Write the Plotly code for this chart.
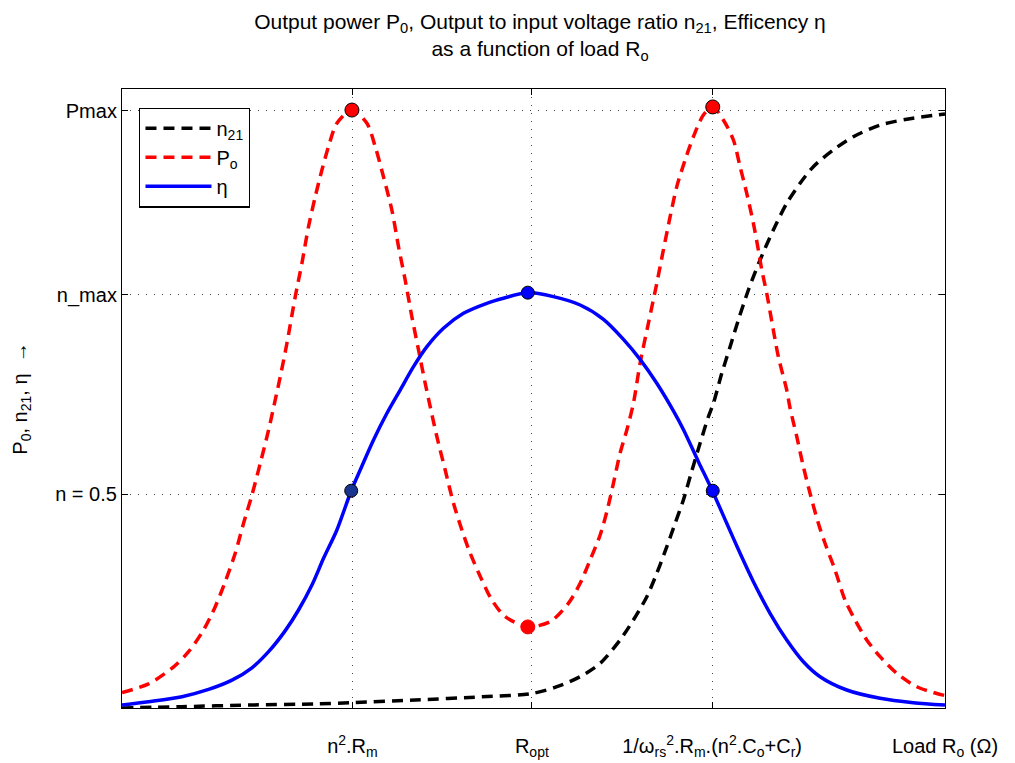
import plotly.graph_objects as go

# ---- data (x: load axis 0..100, y: 0..100) ----
po_x = [0.0, 3.23, 6.24, 8.09, 9.91, 11.33, 12.54, 13.76, 14.77, 15.79, 16.80, 17.81, 18.62,
        19.23, 20.04, 21.05, 21.86, 22.66, 23.48, 24.29, 25.09, 26.11, 27.94, 29.76, 30.77,
        31.77, 32.79, 33.60, 34.41, 35.22, 36.03, 36.84, 37.45, 38.26, 39.27, 40.28, 41.30,
        42.31, 43.73, 44.94, 46.56, 49.31, 52.02, 54.24, 55.67, 56.88, 58.10, 58.91, 59.71,
        60.52, 61.34, 62.14, 62.95, 63.96, 64.98, 65.78, 66.60, 67.41, 68.42, 69.43, 70.64,
        71.78, 73.07, 74.29, 75.10, 75.91, 76.72, 77.32, 77.74, 78.34, 79.14, 79.75, 80.77,
        81.17, 81.99, 82.79, 83.60, 84.61, 85.42, 86.64, 87.85, 89.07, 90.49, 92.11, 94.13,
        96.56, 100.0]
po_y = [2.5, 3.9, 6.6, 9.09, 12.6, 16.37, 20.4, 25.0, 29.84, 34.41, 39.53, 44.91, 49.76,
        53.52, 58.92, 66.45, 71.84, 77.75, 82.6, 86.91, 90.68, 94.46, 96.61, 94.46, 90.68,
        85.83, 80.45, 74.52, 69.14, 63.21, 57.84, 52.46, 48.68, 43.83, 38.45, 33.07, 28.76,
        24.99, 20.68, 17.45, 14.75, 13.13, 13.94, 16.91, 20.15, 23.91, 27.95, 31.71, 36.30,
        41.15, 44.91, 49.22, 55.69, 62.15, 68.61, 73.99, 79.37, 84.22, 88.53, 92.29, 95.80,
        97.14, 94.99, 91.76, 87.45, 83.15, 78.30, 73.99, 70.76, 66.99, 61.07, 56.75, 51.37,
        48.47, 43.83, 38.98, 34.69, 29.84, 26.61, 22.29, 17.45, 14.22, 10.99, 8.29, 5.61,
        3.44, 2.0]

eta_x = [0.0, 3.23, 7.29, 10.52, 13.36, 15.79, 17.81, 19.84, 21.45, 23.08, 24.49, 26.11,
         27.85, 28.94, 30.56, 32.19, 33.80, 35.42, 37.05, 39.06, 41.49, 44.33, 46.35, 49.31,
         52.42, 55.67, 58.50, 60.93, 62.95, 64.98, 67.00, 68.21, 70.04, 71.78, 73.48, 75.10,
         76.72, 78.74, 80.77, 82.79, 84.82, 88.06, 92.11, 96.15, 100.0]
eta_y = [0.48, 1.02, 1.83, 3.0, 4.5, 6.5, 9.1, 12.5, 15.83, 19.87, 24.18, 28.76,
         35.10, 38.45, 43.30, 47.61, 51.37, 55.14, 58.37, 61.34, 63.76, 65.38, 66.2, 67.12,
         66.45, 65.11, 62.8, 59.56, 56.33, 52.46, 48.0, 45.0, 39.8, 34.94, 29.84, 24.99,
         20.40, 15.30, 10.99, 7.48, 5.06, 2.91, 1.57, 0.86, 0.48]

n21_x = [0.0, 7.29, 15.38, 23.48, 27.94, 35.62, 43.73, 49.80, 52.84, 55.67, 58.10, 60.52,
         62.14, 63.77, 64.98, 66.20, 67.21, 68.21, 69.03, 70.24, 71.25, 71.86, 72.88, 73.89,
         74.89, 76.11, 77.53, 79.14, 80.77, 82.39, 84.00, 86.43, 88.86, 92.11, 95.35, 98.99,
         100.0]
n21_y = [0.0, 0.21, 0.48, 0.65, 0.86, 1.3, 1.8, 2.34, 3.44, 5.06, 7.22, 10.99, 14.22,
         17.98, 21.76, 26.06, 29.84, 33.6, 37.37, 42.76, 47.06, 49.22, 54.07, 58.37, 62.68,
         67.53, 72.38, 77.22, 81.54, 84.77, 87.45, 90.15, 92.29, 94.18, 95.11, 95.8, 95.96]

po_pts_x = [27.94, 71.78, 49.31]
po_pts_y = [96.6, 97.1, 13.1]
eta_pts_x = [49.31, 27.85, 71.78]
eta_pts_y = [67.1, 35.1, 35.1]

x_tickvals = [28.0, 49.8, 71.7, 100.0]
x_ticktext = ["n<sup>2</sup>.R<sub>m</sub>", "R<sub>opt</sub>",
              "1/ω<sub>rs</sub><sup>2</sup>.R<sub>m</sub>.(n<sup>2</sup>.C<sub>o</sub>+C<sub>r</sub>)",
              "Load R<sub>o</sub> (Ω)"]
y_tickvals = [34.5, 66.8, 96.5]
y_ticktext = ["n = 0.5", "n_max", "Pmax"]

FONT = "Liberation Sans, Arial, sans-serif"
DASH = "11px,7px"

fig = go.Figure()
fig.add_trace(go.Scatter(x=n21_x, y=n21_y, mode="lines", name="n<sub>21</sub>",
                         line=dict(color="black", width=3.5, dash=DASH, shape="spline", smoothing=0.8)))
fig.add_trace(go.Scatter(x=po_x, y=po_y, mode="lines", name="P<sub>o</sub>",
                         line=dict(color="red", width=3.5, dash=DASH, shape="spline", smoothing=0.8)))
fig.add_trace(go.Scatter(x=eta_x, y=eta_y, mode="lines", name="η",
                         line=dict(color="blue", width=3.5, shape="spline", smoothing=0.8)))
fig.add_trace(go.Scatter(x=po_pts_x, y=po_pts_y, mode="markers", showlegend=False,
                         marker=dict(color="red", size=14,
                                     line=dict(color=["black", "black", "red"], width=1))))
fig.add_trace(go.Scatter(x=eta_pts_x, y=eta_pts_y, mode="markers", showlegend=False,
                         marker=dict(color=["blue", "#1a3590", "blue"], size=13,
                                     line=dict(color="black", width=1))))

axis_common = dict(showline=True, linecolor="black", linewidth=1.2, mirror="ticks",
                   ticks="inside", ticklen=6, tickcolor="black", automargin=False,
                   showgrid=True, gridcolor="#444444", griddash="1px,7px", gridwidth=1,
                   zeroline=False, tickfont=dict(family=FONT, size=20, color="black"))

fig.update_layout(
    width=1015, height=763,
    margin=dict(l=122, r=70, t=89, b=55),
    plot_bgcolor="white", paper_bgcolor="white",
    font=dict(family=FONT, size=20, color="black"),
    title=dict(text="Output power P<sub>0</sub>, Output to input voltage ratio n<sub>21</sub>, Efficency η<br>as a function of load R<sub>o</sub>",
               x=0.532, xanchor="center", xref="container",
               y=1 - 29 / 763, yanchor="top", yref="container",
               font=dict(family=FONT, size=21)),
    xaxis=dict(range=[0, 100], tickvals=x_tickvals, ticktext=x_ticktext,
               ticklabelstandoff=20, **axis_common),
    yaxis=dict(range=[0, 100], tickvals=y_tickvals, ticktext=y_ticktext,
               title=dict(text="P<sub>0</sub>, n<sub>21</sub>, η  →", standoff=22,
                          font=dict(family=FONT, size=20)),
               **axis_common),
    legend=dict(x=0.021, y=0.97, xanchor="left", yanchor="top",
                bordercolor="black", borderwidth=1.2, bgcolor="white",
                font=dict(family=FONT, size=20), itemwidth=66, tracegroupgap=2),
)

fig.write_html("out.html")
